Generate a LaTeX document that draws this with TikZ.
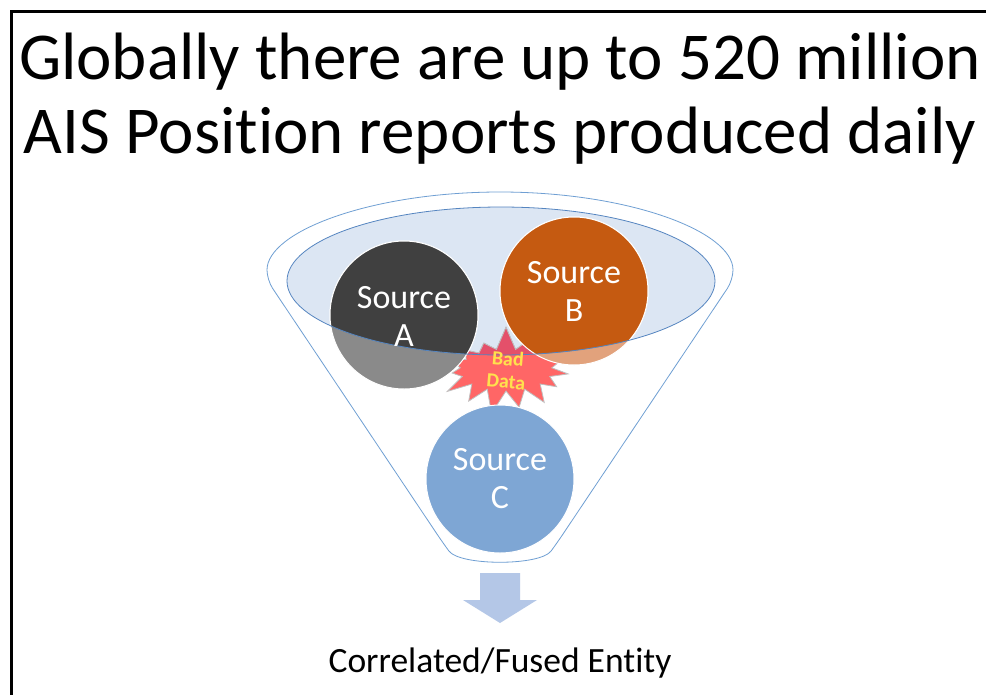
\documentclass[tikz,border=0pt]{standalone}
\usepackage{fontspec}
\setmainfont{Carlito}[Ligatures=NoCommon]
\usepackage{xcolor}
\usetikzlibrary{shapes.symbols,positioning}
\definecolor{funnelblue}{HTML}{6F9FD3}
\definecolor{rimblue}{HTML}{5585C0}
\definecolor{rimfill}{HTML}{DCE6F3}
\definecolor{darkA}{HTML}{404040}
\definecolor{lightA}{HTML}{8A8A8A}
\definecolor{darkB}{HTML}{C55A11}
\definecolor{lightB}{HTML}{E2A27C}
\definecolor{lightC}{HTML}{7EA6D4}
\definecolor{badred}{HTML}{FF6666}
\definecolor{badrim}{HTML}{E4506A}
\definecolor{badtext}{HTML}{FFE14D}
\definecolor{arrowblue}{HTML}{B4C7E7}
\tikzset{
  source/.style={circle, minimum size=148pt, inner sep=0pt, draw=white, line width=1pt},
  sourcetext/.style={text=white, align=center, font=\fontsize{34}{38}\selectfont},
  burst/.style={starburst, starburst points=15, starburst point height=24pt, random starburst=7,
    minimum width=140pt, minimum height=90pt, inner sep=0pt, draw=gray!50, line width=0.8pt},
}

\begin{document}
\begin{tikzpicture}[x=1pt, y=-1pt]
        \useasboundingbox (0,0) rectangle (986,694);
        \clip (0,0) rectangle (986,694);
        \fill[white] (0,0) rectangle (986,694);

        % funnel
        \draw[funnelblue, line width=0.8pt, rounded corners=10pt] (267,280) arc[start angle=180, end angle=360, x radius=233, y radius=88]
            -- (557,543) .. controls (540,566) and (460,566) .. (443,543) -- cycle;
        \fill[rimfill] (501,281) ellipse [x radius=214, y radius=74];

        \node[burst, fill=badred] at (506,370) {};
        \node[source, fill=lightA] at (404,315) {};
        \node[source, fill=lightB] at (574,291) {};
        \begin{scope}
            \clip (501,281) ellipse [x radius=214, y radius=74];
            \node[burst, fill=badrim] at (506,370) {};
            \node[source, fill=darkA] at (404,315) {};
            \node[source, fill=darkB] at (574,291) {};
        \end{scope}
        \draw[rimblue, line width=0.8pt] (501,281) ellipse [x radius=214, y radius=74];
        \node[source, fill=lightC] (sourceC) at (500,479) {};

        \node[sourcetext] (sourceA) at (404,316) {Source\\A};
        \node[sourcetext] (sourceB) at (574,291) {Source\\B};
        \node[sourcetext] at (500,479) {Source\\C};
        \node[rotate=-5, text=badtext, align=center, font=\bfseries\fontsize{20}{23}\selectfont] (baddata) at (507,370) {Bad\\Data};

        \fill[arrowblue] (480,573) -- (520,573) -- (520,600) -- (537,600) -- (500,623) -- (463,600) -- (480,600) -- cycle;
        \node[anchor=base, font=\fontsize{35.5}{40}\selectfont] (entity) at (500,672) {Correlated/Fused Entity};

        \node[inner sep=0pt, align=center, font=\fontsize{67}{74}\selectfont] (title) at (500,99)
            {Globally there are up to 520 million\\AIS Position reports produced daily};

        \draw[line width=3pt] (11,720) -- (11,11) -- (1000,11);
    \end{tikzpicture}
\end{document}
